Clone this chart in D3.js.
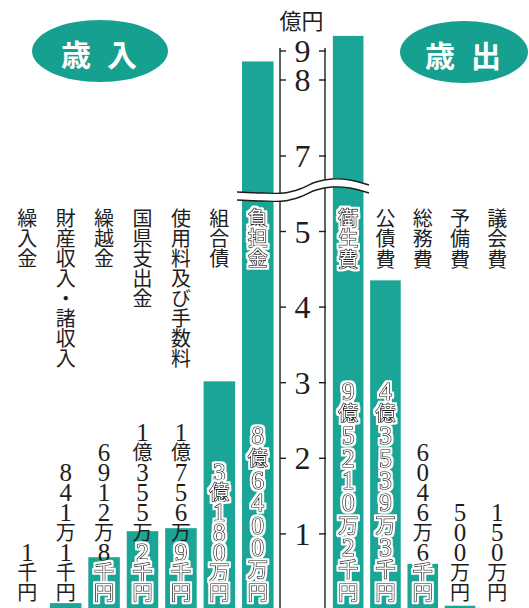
<!DOCTYPE html>
<html><head><meta charset="utf-8">
<script src="https://cdn.jsdelivr.net/npm/d3@7"></script>
<style>html,body{margin:0;padding:0;background:#fff;}svg{display:block;}
.vt{writing-mode:vertical-rl;text-orientation:upright;}</style>
</head><body>
<svg id="c" width="529" height="608"></svg>
<script>
// ---- data ----
const revCats = ["繰入金","財産収入・諸収入","繰越金","国県支出金","使用料及び手数料","組合債","負担金"];
const revValues = [0.00001, 0.08411, 0.69128, 1.03552, 1.07569, 3.018, 8.64];
const revLabels = ["1千円","841万1千円","6912万8千円","1億355万2千円","1億756万9千円","3億180万円","8億6400万円"];
const expCats = ["衛生費","公債費","総務費","予備費","議会費"];
const expValues = [9.52102, 4.35393, 0.60466, 0.05, 0.015];
const expLabels = ["9億5210万2千円","4億3539万3千円","6046万6千円","500万円","150万円"];
const tickValues = [1,2,3,4,5,7,8,9];
const unitLabel = "億円";
const titles = [["歳","入"],["歳","出"]];

// ---- layout ----
const TEAL = "#1aa597", ELL = "#16a08f", INK = "#1e1e1e";
const svg = d3.select("#c");
const defs = svg.append("defs");
const f = defs.append("filter").attr("id","halo").attr("x","-30%").attr("y","-30%").attr("width","160%").attr("height","160%");
f.append("feMorphology").attr("in","SourceAlpha").attr("operator","dilate").attr("radius",1.6).attr("result","d");
f.append("feFlood").attr("flood-color","#ffffff").attr("result","w");
f.append("feComposite").attr("in","w").attr("in2","d").attr("operator","in").attr("result","h");
const m = f.append("feMerge"); m.append("feMergeNode").attr("in","h"); m.append("feMergeNode").attr("in","SourceGraphic");

const y = d3.scaleLinear().domain([0,5,7,8,9]).range([609.5,231.5,156,80,51]);
const xRev = d3.scaleBand().domain(revCats).range([8,277]).paddingInner(0.18).paddingOuter(0.09);
const xExp = d3.scaleBand().domain(expCats).range([329.5,516]).paddingInner(0.18).paddingOuter(0.09);
const axisL = 280, axisR = 325, axisMid = (axisL+axisR)/2;

const rev = revCats.map((c,i)=>({cat:c,v:revValues[i],lab:revLabels[i],x:xRev}));
const exp = expCats.map((c,i)=>({cat:c,v:expValues[i],lab:expLabels[i],x:xExp}));
const all = rev.concat(exp);

// upright single glyph, centred on (cx, cy), its box trimmed to maxH along the column
function glyph(g, ch, cx, cy, fam, fs, maxH){
  const t = g.append("text").attr("class","vt").attr("x",0).attr("y",0)
    .attr("font-family",fam).attr("font-size",fs).text(ch);
  const b = t.node().getBBox();
  if(b.height > maxH) t.attr("letter-spacing", maxH - b.height);
  t.attr("x", cx - (b.x + b.width/2)).attr("y", cy - (b.y + b.height/2));
  return t;
}

// title ellipses
const ellG = svg.append("g");
[[100,51,68,31],[464,52,64,31]].forEach((e,i)=>{
  ellG.append("ellipse").attr("cx",e[0]).attr("cy",e[1]).attr("rx",e[2]).attr("ry",e[3]).attr("fill",ELL);
  titles[i].forEach((ch,j)=>{
    ellG.append("text").attr("x",e[0]+(j?22:-24)).attr("y",e[1]+2)
      .attr("text-anchor","middle").attr("dominant-baseline","central")
      .attr("font-family","'Noto Sans CJK JP'").attr("font-weight","bold").attr("font-size",30)
      .attr("fill","#fff").text(ch);
  });
});

// bars
svg.append("g").selectAll("rect").data(all).join("rect")
  .attr("x",d=>d.x(d.cat)).attr("width",d=>d.x.bandwidth())
  .attr("y",d=>y(d.v)).attr("height",d=>y(0)-y(d.v)).attr("fill",TEAL);

// axis
const ax = svg.append("g").attr("stroke",INK).attr("stroke-width",1.4);
ax.append("line").attr("x1",axisL).attr("x2",axisL).attr("y1",y(9)-3).attr("y2",608);
ax.append("line").attr("x1",axisR).attr("x2",axisR).attr("y1",y(9)-3).attr("y2",608);
tickValues.forEach(t=>{
  ax.append("line").attr("x1",axisL).attr("x2",axisL+6).attr("y1",y(t)).attr("y2",y(t));
  ax.append("line").attr("x1",axisR-6).attr("x2",axisR+1).attr("y1",y(t)).attr("y2",y(t));
});
const tickG = svg.append("g").attr("fill",INK);
tickValues.forEach(t=>glyph(tickG, String(t), axisMid, y(t), "'Liberation Serif'", 32, 27));
svg.append("text").attr("x",axisMid-1).attr("y",19).attr("text-anchor","middle").attr("dominant-baseline","central")
  .attr("font-family","'Noto Sans CJK JP'").attr("font-size",22).attr("fill",INK).text(unitLabel);

// vertical labels: one text element per character
const isDigit = ch => /[0-9]/.test(ch);
const labG = svg.append("g");
function vchar(ch, cx, cy, pitch, inside){
  const dig = isDigit(ch);
  const t = dig ? glyph(labG, ch, cx, cy, "'Liberation Serif'", 25, pitch - 0.5)
                : glyph(labG, ch, cx, cy, "'Noto Sans CJK JP'", 20, pitch - 0.5);
  if(inside){
    t.attr("fill","#fff").attr("stroke","#222").attr("stroke-width",1.6)
     .attr("paint-order","stroke").attr("stroke-linejoin","round").attr("filter","url(#halo)");
  } else t.attr("fill",INK);
}

all.forEach(d=>{
  const cx = d.x(d.cat) + d.x.bandwidth()/2;
  const top = y(d.v);
  const cp = d.x === xExp ? 20.5 : 20;
  Array.from(d.cat).forEach((ch,i)=>{ const cy = 218 + i*cp; vchar(ch, cx, cy, cp, cy > top+4); });
  const vchars = Array.from(d.lab), n = vchars.length;
  const p = d.v > 4 ? 22.3 : 20;
  vchars.forEach((ch,i)=>{ const cy = 592 - (n-1-i)*p; vchar(ch, cx, cy, p, cy > top+4); });
});

// axis break
const bx0 = 237, bx1 = 369;
const yb = y(6.1);
const up = [[bx0,yb+2],[262,yb+3],[284,yb+3],[300,yb-1],[316,yb-8],[332,yb-11],[350,yb-10],[bx1,yb-5]];
const lo = up.map(p=>[p[0],p[1]+8]);
const curve = d3.line().curve(d3.curveCatmullRom);
svg.append("path").attr("d", curve(up) + "L" + curve(lo.slice().reverse()).slice(1) + "Z")
  .attr("fill","#fff").attr("stroke","none");
svg.append("path").attr("d", curve(up)).attr("fill","none").attr("stroke",INK).attr("stroke-width",1.4);
svg.append("path").attr("d", curve(lo)).attr("fill","none").attr("stroke",INK).attr("stroke-width",1.4);
</script>
</body></html>
